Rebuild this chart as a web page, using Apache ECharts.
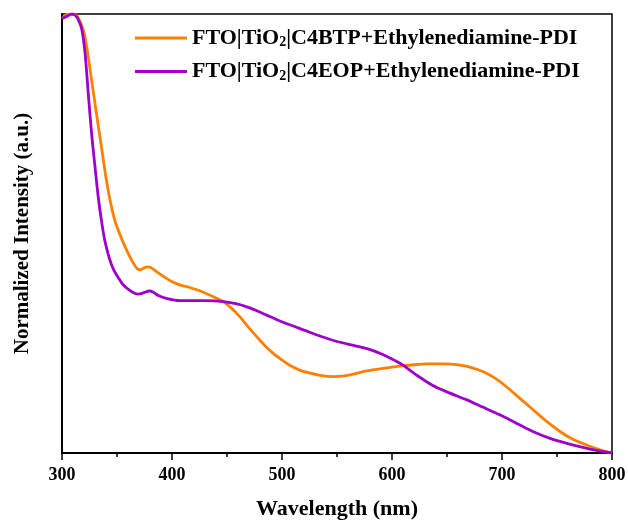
<!DOCTYPE html>
<html>
<head>
<meta charset="utf-8">
<script src="https://cdn.jsdelivr.net/npm/echarts@6/dist/echarts.min.js"></script>
<style>html,body{margin:0;padding:0;background:#fff;}#c{width:628px;height:522px;}</style>
</head>
<body>
<div id="c"></div>
<script>
const seriesNames = ['FTO|TiO2|C4BTP+Ethylenediamine-PDI', 'FTO|TiO2|C4EOP+Ethylenediamine-PDI'];
const xTicks = [300, 400, 500, 600, 700, 800];
const btpData = [[300,0.99],[304,0.998],[310,1.0],[313,0.997],[316,0.985],[320,0.958],[324,0.90],[328,0.83],[332,0.762],[336,0.695],[340,0.627],[344,0.572],[348,0.530],[352,0.502],[358,0.466],[364,0.436],[368,0.421],[371,0.417],[374,0.421],[377.5,0.424],[381,0.422],[386,0.413],[398,0.393],[407,0.383],[416,0.377],[427,0.368],[437.5,0.356],[446.6,0.345],[454,0.330],[461.8,0.310],[469,0.288],[477,0.265],[485,0.243],[492,0.227],[500,0.212],[507,0.200],[515,0.190],[522,0.184],[534.5,0.177],[547,0.174],[555,0.175],[562,0.178],[577,0.187],[592,0.193],[607,0.198],[620,0.201],[631.5,0.203],[647,0.203],[662,0.200],[673,0.194],[683,0.185],[694,0.170],[704,0.151],[716,0.125],[728.5,0.098],[740,0.073],[752.7,0.049],[763,0.033],[774,0.021],[787,0.009],[800,0]];
const eopData = [[300,0.99],[304,0.994],[309,1.0],[312,0.997],[315,0.986],[318,0.965],[321,0.91],[324,0.815],[327,0.725],[330,0.652],[333,0.582],[336,0.527],[339,0.483],[343,0.444],[347,0.417],[351,0.400],[356,0.382],[362,0.370],[366,0.364],[369.4,0.362],[372,0.363],[375,0.366],[379.4,0.369],[383,0.366],[388,0.358],[395,0.352],[407,0.347],[416,0.347],[430,0.347],[446.6,0.345],[458,0.340],[468,0.333],[477,0.324],[486,0.314],[497,0.302],[507,0.292],[520,0.280],[535,0.266],[550,0.254],[565,0.245],[578,0.237],[590,0.226],[600,0.214],[610,0.200],[622,0.178],[637.6,0.153],[652,0.137],[668,0.121],[683,0.104],[698,0.087],[713,0.068],[728,0.049],[743,0.034],[759,0.022],[780,0.009],[800,0]];

const chart = echarts.init(document.getElementById('c'), null, {renderer: 'canvas'});
const font = '"Liberation Serif","Times New Roman",serif';
function legendFmt(name) {
  const parts = name.split('TiO2');
  return '{a|' + parts[0] + 'TiO}{s|2}{a|' + parts[1] + '}';
}
chart.setOption({
  animation: false,
  backgroundColor: '#fff',
  grid: {left: 62, right: 16, top: 14, bottom: 69, outerBoundsMode: 'none', show: true, borderColor: '#000', borderWidth: 1.5, backgroundColor: 'transparent'},
  legend: {
    orient: 'vertical', left: 130, top: 22, itemWidth: 52, itemHeight: 3, itemGap: 11,
    icon: 'rect',
    data: seriesNames,
    formatter: legendFmt,
    textStyle: {
      rich: {
        a: {fontFamily: font, fontWeight: 'bold', fontSize: 22, color: '#000'},
        s: {fontFamily: font, fontWeight: 'bold', fontSize: 14, color: '#000', verticalAlign: 'bottom', padding: [9, 0, 0, 0]}
      }
    }
  },
  xAxis: {
    type: 'value', min: 300, max: 800, interval: 100,
    name: 'Wavelength (nm)', nameLocation: 'middle', nameGap: 45,
    nameTextStyle: {fontFamily: font, fontWeight: 'bold', fontSize: 22, color: '#000'},
    axisLine: {lineStyle: {color: '#000', width: 2}},
    axisTick: {show: true, inside: false, length: 7, lineStyle: {color: '#000', width: 1.5}},
    minorTick: {show: true, splitNumber: 2, length: 4, lineStyle: {color: '#000', width: 1.5}},
    axisLabel: {fontFamily: font, fontWeight: 'bold', fontSize: 18, color: '#000', margin: 13,
      formatter: function (v) { return xTicks.indexOf(v) >= 0 ? String(v) : ''; }},
    splitLine: {show: false}
  },
  yAxis: {
    type: 'value', min: 0, max: 1,
    name: 'Normalized Intensity (a.u.)', nameLocation: 'middle', nameGap: 29,
    nameTextStyle: {fontFamily: font, fontWeight: 'bold', fontSize: 21, color: '#000'},
    axisLine: {show: true, lineStyle: {color: '#000', width: 2}},
    axisTick: {show: false}, axisLabel: {show: false}, splitLine: {show: false}
  },
  series: [
    {name: seriesNames[0], type: 'line', data: btpData, smooth: 0.3, symbol: 'none', lineStyle: {color: '#FF8000', width: 2.8}, itemStyle: {color: '#FF8000'}, clip: true},
    {name: seriesNames[1], type: 'line', data: eopData, smooth: 0.3, symbol: 'none', lineStyle: {color: '#9C00CC', width: 2.8}, itemStyle: {color: '#9C00CC'}, clip: true}
  ]
});
</script>
</body>
</html>
